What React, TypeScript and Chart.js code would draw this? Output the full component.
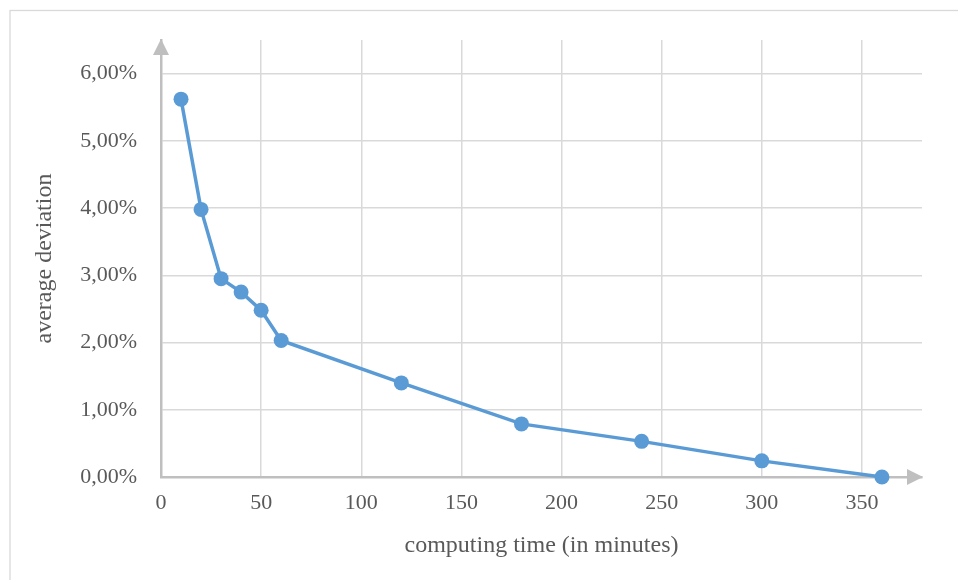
import React, { useEffect, useRef } from "react";
import { Chart, registerables } from "chart.js";

Chart.register(...registerables);

const minutes = [10, 20, 30, 40, 50, 60, 120, 180, 240, 300, 360];
const deviationPct = [5.62, 3.98, 2.95, 2.75, 2.48, 2.03, 1.4, 0.79, 0.53, 0.24, 0.0];
const xTickMax = 350;
const yTickMax = 6;

const FONT = "'Liberation Serif', 'Times New Roman', serif";
const TEXT = "#595959";
const AXIS = "#bfbfbf";
const GRID = "#d9d9d9";
const LINE = "#5b9bd5";

const framePlugin = {
  id: "frame",
  beforeDraw(chart: any) {
    const ctx = chart.ctx;
    ctx.save();
    ctx.strokeStyle = GRID;
    ctx.lineWidth = 1.3;
    ctx.strokeRect(10, 10.5, 2000, 2000);
    ctx.restore();
  },
};

const arrowPlugin = {
  id: "arrows",
  afterDraw(chart: any) {
    const { ctx, chartArea } = chart;
    const { left, right, top, bottom } = chartArea;
    ctx.save();
    ctx.fillStyle = AXIS;
    ctx.beginPath();
    ctx.moveTo(left, top - 1);
    ctx.lineTo(left - 8, top + 15);
    ctx.lineTo(left + 8, top + 15);
    ctx.closePath();
    ctx.fill();
    ctx.beginPath();
    ctx.moveTo(right + 1, bottom);
    ctx.lineTo(right - 15, bottom - 8);
    ctx.lineTo(right - 15, bottom + 8);
    ctx.closePath();
    ctx.fill();
    ctx.restore();
  },
};

export default function App() {
  const ref = useRef<HTMLCanvasElement | null>(null);

  useEffect(() => {
    if (!ref.current) return;
    const points = minutes.map((m, i) => ({ x: m, y: deviationPct[i] }));
    const chart = new Chart(ref.current, {
      type: "line",
      data: {
        datasets: [
          {
            data: points,
            borderColor: LINE,
            backgroundColor: LINE,
            borderWidth: 3.5,
            pointRadius: 7.5,
            pointHoverRadius: 7.5,
            pointBorderWidth: 0,
            tension: 0,
            clip: false,
          } as any,
        ],
      },
      options: {
        animation: false,
        responsive: false,
        devicePixelRatio: 1,
        layout: { padding: { left: 0, right: 36, top: 40, bottom: 0 } },
        plugins: { legend: { display: false }, tooltip: { enabled: false } },
        scales: {
          x: {
            type: "linear",
            min: 0,
            max: 380,
            afterBuildTicks: (axis: any) => {
              axis.ticks = axis.ticks.filter((t: any) => t.value <= xTickMax);
            },
            afterFit: (scale: any) => {
              scale.height = 103;
            },
            ticks: {
              stepSize: 50,
              padding: 13,
              color: TEXT,
              font: { family: FONT, size: 22 },
            },
            grid: { color: GRID, lineWidth: 1.5, drawTicks: false },
            border: { color: AXIS, width: 2.5 },
            title: {
              display: true,
              text: "computing time (in minutes)",
              color: TEXT,
              font: { family: FONT, size: 24 },
              padding: { top: 0, bottom: 20 },
            },
          },
          y: {
            type: "linear",
            min: 0,
            max: 6.5,
            afterBuildTicks: (axis: any) => {
              axis.ticks = axis.ticks.filter((t: any) => t.value <= yTickMax);
            },
            afterFit: (scale: any) => {
              scale.width = 161;
            },
            ticks: {
              stepSize: 1,
              padding: 24,
              color: TEXT,
              font: { family: FONT, size: 22 },
              callback: (v: any) => Number(v).toFixed(2).replace(".", ",") + "%",
            },
            grid: { color: GRID, lineWidth: 1.5, drawTicks: false },
            border: { color: AXIS, width: 2.5 },
            title: {
              display: true,
              text: "average deviation",
              color: TEXT,
              font: { family: FONT, size: 24 },
              padding: { top: 30, bottom: 0 },
            },
          },
        },
      },
      plugins: [framePlugin, arrowPlugin],
    });
    return () => chart.destroy();
  }, []);

  return (
    <div style={{ position: "fixed", left: 0, top: 0, width: 958, height: 580, background: "#fff" }}>
      <canvas ref={ref} width={958} height={580} style={{ width: 958, height: 580, display: "block" }} />
    </div>
  );
}
